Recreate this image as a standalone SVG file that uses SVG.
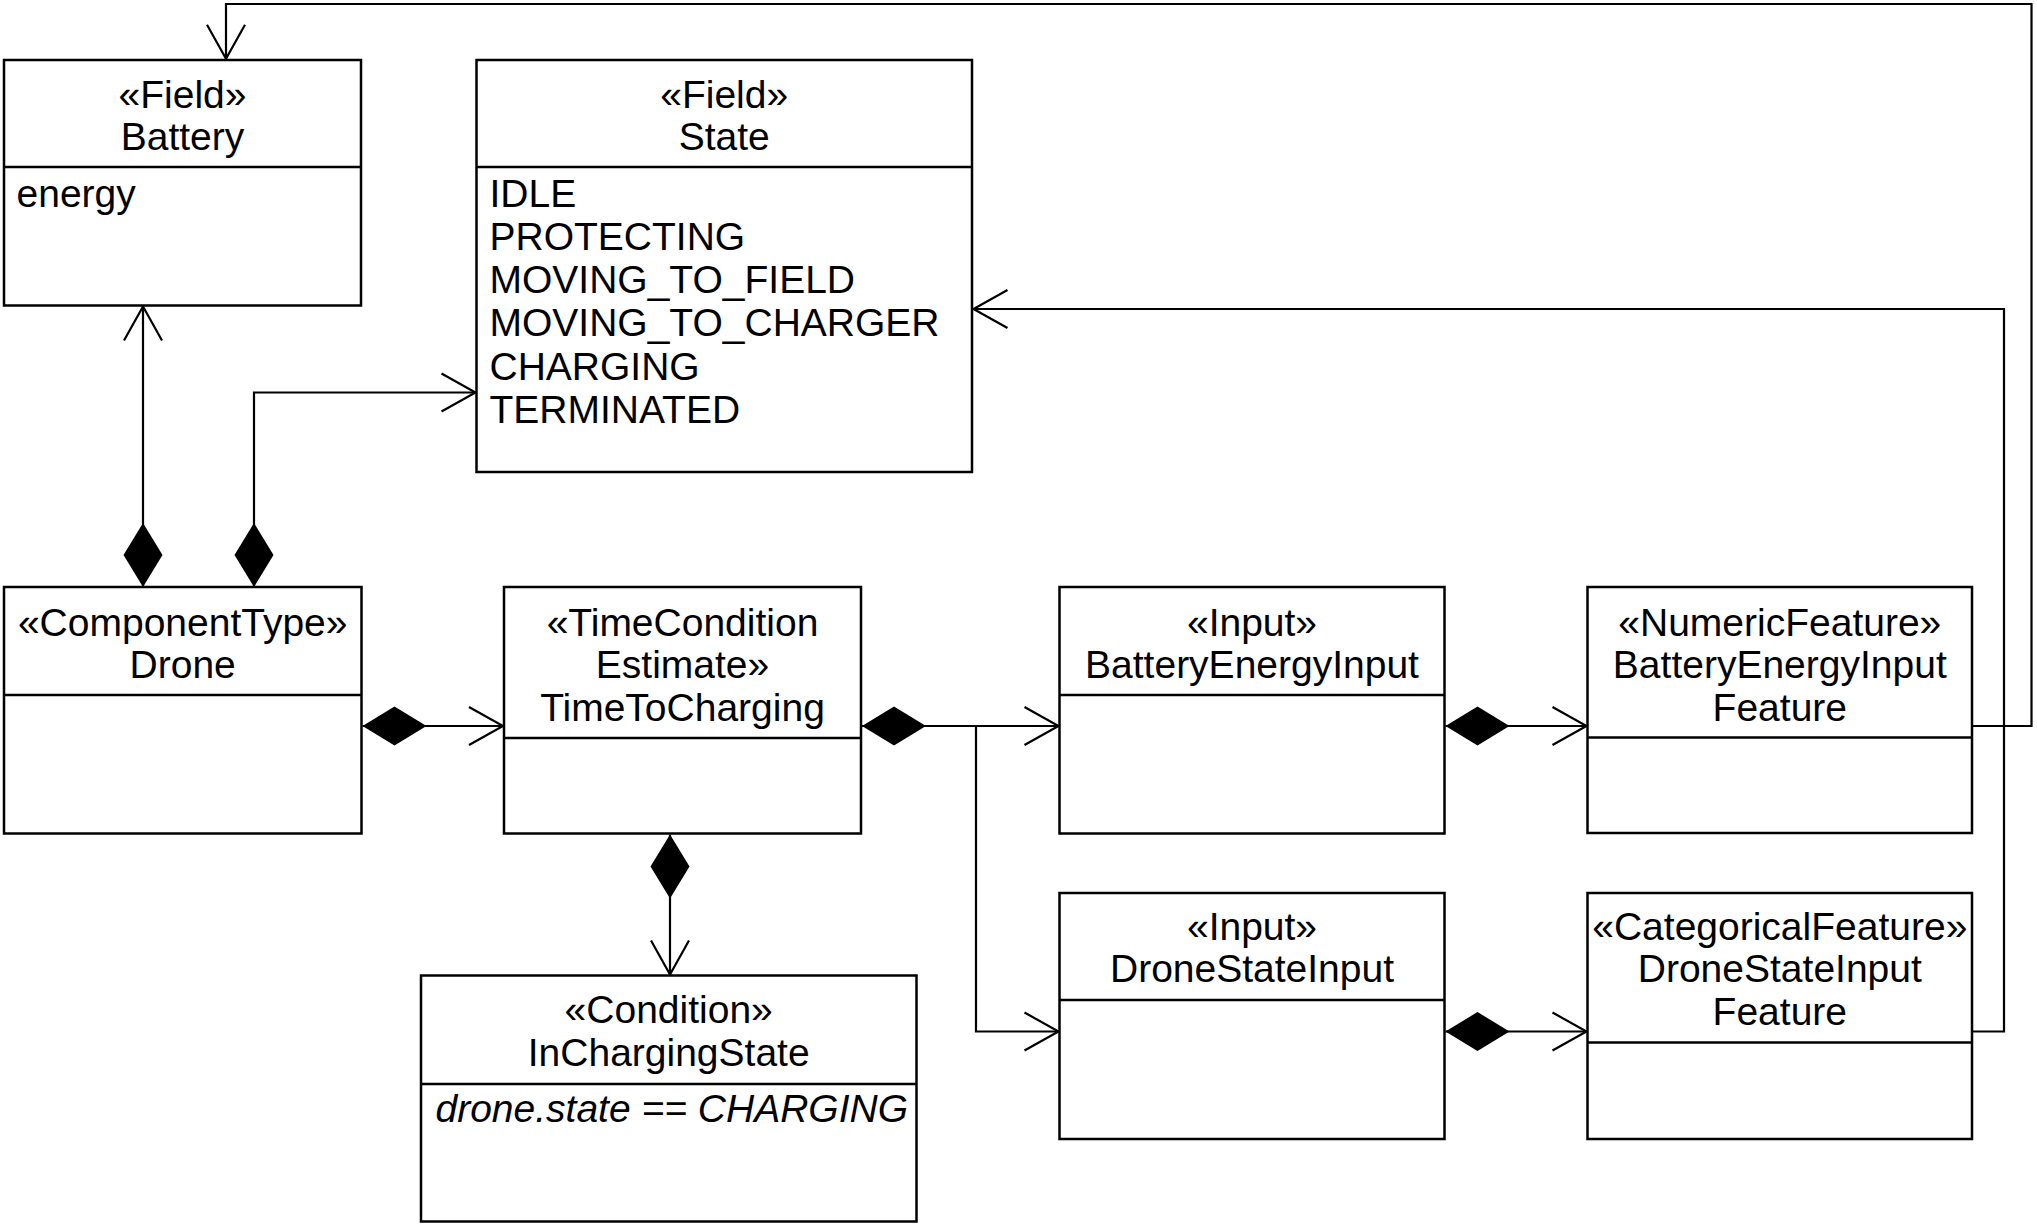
<svg xmlns="http://www.w3.org/2000/svg" width="2037" height="1225" viewBox="0 0 2037 1225">
<style>
  .box { fill: #ffffff; stroke: #000000; stroke-width: 2.5; }
  .div { stroke: #000000; stroke-width: 2.5; fill: none; }
  .t { font-family: "Liberation Sans", Arial, Helvetica, sans-serif; font-size: 39px; fill: #000000; }
  .c { text-anchor: middle; }
  .i { font-style: italic; }
  .conn { fill: none; stroke: #000000; stroke-width: 2.2; stroke-linejoin: miter; }
</style>
<defs>
  <marker id="arrow" markerUnits="userSpaceOnUse" viewBox="-40 -25 45 50" markerWidth="45" markerHeight="50" refX="0" refY="0" orient="auto" overflow="visible">
    <path d="M-34,-19 L0,0 L-34,19" fill="none" stroke="#000000" stroke-width="2.2"/>
  </marker>
  <marker id="diamond" markerUnits="userSpaceOnUse" viewBox="-2 -22 70 44" markerWidth="70" markerHeight="44" refX="0" refY="0" orient="auto" overflow="visible">
    <path d="M0,0 L32,-19.5 L64,0 L32,19.5 Z" fill="#000000" stroke="none"/>
  </marker>
</defs>

<g id="connectors">
  <path class="conn" d="M143,587 V306.5" marker-start="url(#diamond)" marker-end="url(#arrow)"/>
  <path class="conn" d="M254,587 V392.5 H475.5" marker-start="url(#diamond)" marker-end="url(#arrow)"/>
  <path class="conn" d="M362.5,726 H503" marker-start="url(#diamond)" marker-end="url(#arrow)"/>
  <path class="conn" d="M862,726 H1058.5" marker-start="url(#diamond)" marker-end="url(#arrow)"/>
  <path class="conn" d="M976,726 V1031.5 H1058.5" marker-end="url(#arrow)"/>
  <path class="conn" d="M670,834.5 V974.5" marker-start="url(#diamond)" marker-end="url(#arrow)"/>
  <path class="conn" d="M1445.5,726 H1586.5" marker-start="url(#diamond)" marker-end="url(#arrow)"/>
  <path class="conn" d="M1445.5,1031.5 H1586.5" marker-start="url(#diamond)" marker-end="url(#arrow)"/>
  <path class="conn" d="M1973,726 H2031.5 V4 H226 V58.8" marker-end="url(#arrow)"/>
  <path class="conn" d="M1973,1031.5 H2004 V309 H973.5" marker-end="url(#arrow)"/>
</g>

<g id="battery">
  <rect class="box" x="4" y="60" width="357" height="245.5"/>
  <line class="div" x1="4" y1="167" x2="361" y2="167"/>
  <text class="t c" x="182.5" y="107.5">«Field»</text>
  <text class="t c" x="182.5" y="149.5">Battery</text>
  <text class="t" x="16.5" y="206.7">energy</text>
</g>

<g id="state">
  <rect class="box" x="476.5" y="60" width="495.5" height="412"/>
  <line class="div" x1="476.5" y1="167" x2="972" y2="167"/>
  <text class="t c" x="724.2" y="107.5">«Field»</text>
  <text class="t c" x="724.2" y="149.5">State</text>
  <text class="t" x="489.5" y="206.7">IDLE</text>
  <text class="t" x="489.5" y="249.9">PROTECTING</text>
  <text class="t" x="489.5" y="293.1">MOVING_TO_FIELD</text>
  <text class="t" x="489.5" y="336.3">MOVING_TO_CHARGER</text>
  <text class="t" x="489.5" y="379.5">CHARGING</text>
  <text class="t" x="489.5" y="422.7">TERMINATED</text>
</g>

<g id="drone">
  <rect class="box" x="4" y="587" width="357.5" height="246.5"/>
  <line class="div" x1="4" y1="695" x2="361.5" y2="695"/>
  <text class="t c" x="182.7" y="635.5">«ComponentType»</text>
  <text class="t c" x="182.7" y="678">Drone</text>
</g>

<g id="timeToCharging">
  <rect class="box" x="504" y="587" width="357" height="246.5"/>
  <line class="div" x1="504" y1="738" x2="861" y2="738"/>
  <text class="t c" x="682.5" y="635.5">«TimeCondition</text>
  <text class="t c" x="682.5" y="678">Estimate»</text>
  <text class="t c" x="682.5" y="720.5">TimeToCharging</text>
</g>

<g id="inChargingState">
  <rect class="box" x="421" y="975.5" width="495.5" height="246"/>
  <line class="div" x1="421" y1="1084" x2="916.5" y2="1084"/>
  <text class="t c" x="668.7" y="1023">«Condition»</text>
  <text class="t c" x="668.7" y="1066">InChargingState</text>
  <text class="t i" x="435.5" y="1122">drone.state == CHARGING</text>
</g>

<g id="batteryEnergyInput">
  <rect class="box" x="1059.5" y="587" width="385" height="246.5"/>
  <line class="div" x1="1059.5" y1="695" x2="1444.5" y2="695"/>
  <text class="t c" x="1252" y="635.5">«Input»</text>
  <text class="t c" x="1252" y="678">BatteryEnergyInput</text>
</g>

<g id="batteryEnergyInputFeature">
  <rect class="box" x="1587.5" y="587" width="384.5" height="246"/>
  <line class="div" x1="1587.5" y1="737.5" x2="1972" y2="737.5"/>
  <text class="t c" x="1779.8" y="635.5">«NumericFeature»</text>
  <text class="t c" x="1779.8" y="678">BatteryEnergyInput</text>
  <text class="t c" x="1779.8" y="720.5">Feature</text>
</g>

<g id="droneStateInput">
  <rect class="box" x="1059.5" y="893" width="385" height="246"/>
  <line class="div" x1="1059.5" y1="1000" x2="1444.5" y2="1000"/>
  <text class="t c" x="1252" y="939.5">«Input»</text>
  <text class="t c" x="1252" y="982">DroneStateInput</text>
</g>

<g id="droneStateInputFeature">
  <rect class="box" x="1587.5" y="893" width="384.5" height="246"/>
  <line class="div" x1="1587.5" y1="1042.5" x2="1972" y2="1042.5"/>
  <text class="t c" x="1779.8" y="939.5">«CategoricalFeature»</text>
  <text class="t c" x="1779.8" y="982">DroneStateInput</text>
  <text class="t c" x="1779.8" y="1024.5">Feature</text>
</g>
</svg>
